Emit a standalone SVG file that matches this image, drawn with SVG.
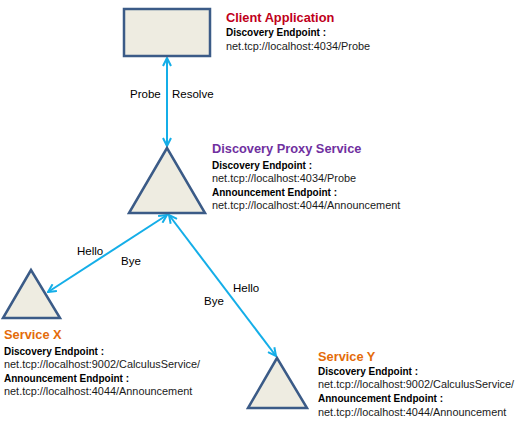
<svg xmlns="http://www.w3.org/2000/svg" width="518" height="431" viewBox="0 0 518 431">
<style>
.shape{fill:#eeece1;stroke:#3b5b87;stroke-width:2.5;stroke-linejoin:miter}
.conn{stroke:#14aee8;stroke-width:2;fill:none}
text{font-family:"Liberation Sans",Arial,sans-serif}
.title{font-size:12.8px;font-weight:bold}
.lbl{font-size:10px;font-weight:bold;fill:#000}
.url{font-size:10.9px;fill:#1a1a1a}
.edge{font-size:11.5px;fill:#000}
</style>
<defs>
<marker id="ah" viewBox="0 0 10 10" refX="9" refY="5" markerWidth="5" markerHeight="5" orient="auto-start-reverse" markerUnits="strokeWidth">
<path d="M1,1 L9,5 L1,9" fill="none" stroke="#14aee8" stroke-width="2"/>
</marker>
</defs>
<rect width="518" height="431" fill="#fff"/>
<g id="connectors">
<line class="conn" x1="167" y1="58" x2="167" y2="146" marker-start="url(#ah)" marker-end="url(#ah)"/>
<line class="conn" x1="167" y1="215" x2="48" y2="292" marker-start="url(#ah)" marker-end="url(#ah)"/>
<line class="conn" x1="169" y1="215" x2="276" y2="356" marker-start="url(#ah)" marker-end="url(#ah)"/>
<text class="edge" x="130" y="98">Probe</text>
<text class="edge" x="172" y="98">Resolve</text>
<text class="edge" x="77" y="255">Hello</text>
<text class="edge" x="121" y="265">Bye</text>
<text class="edge" x="233" y="292">Hello</text>
<text class="edge" x="204" y="305">Bye</text>
</g>
<g id="client">
<rect class="shape" x="124" y="9" width="86" height="47"/>
<text class="title" x="226" y="22" fill="#c0001a">Client Application</text>
<text class="lbl" x="226" y="36">Discovery Endpoint  :</text>
<text class="url" x="226" y="50">net.tcp://localhost:4034/Probe</text>
</g>
<g id="proxy">
<polygon class="shape" points="167,148 129,213 205,213"/>
<text class="title" x="212" y="153" fill="#7030a0">Discovery Proxy Service</text>
<text class="lbl" x="212" y="169">Discovery Endpoint  :</text>
<text class="url" x="212" y="182">net.tcp://localhost:4034/Probe</text>
<text class="lbl" x="212" y="196">Announcement Endpoint  :</text>
<text class="url" x="212" y="209">net.tcp://localhost:4044/Announcement</text>
</g>
<g id="serviceX">
<polygon class="shape" points="31,270 3,318 60,318"/>
<text class="title" x="4" y="339" fill="#e46c0a">Service X</text>
<text class="lbl" x="4" y="355">Discovery Endpoint  :</text>
<text class="url" x="4" y="368">net.tcp://localhost:9002/CalculusService/</text>
<text class="lbl" x="4" y="382">Announcement Endpoint  :</text>
<text class="url" x="4" y="395">net.tcp://localhost:4044/Announcement</text>
</g>
<g id="serviceY">
<polygon class="shape" points="277,358 248,408 307,408"/>
<text class="title" x="318" y="361" fill="#e46c0a">Service Y</text>
<text class="lbl" x="318" y="375">Discovery Endpoint  :</text>
<text class="url" x="318" y="388">net.tcp://localhost:9002/CalculusService/</text>
<text class="lbl" x="318" y="402">Announcement Endpoint  :</text>
<text class="url" x="318" y="416">net.tcp://localhost:4044/Announcement</text>
</g>
</svg>
